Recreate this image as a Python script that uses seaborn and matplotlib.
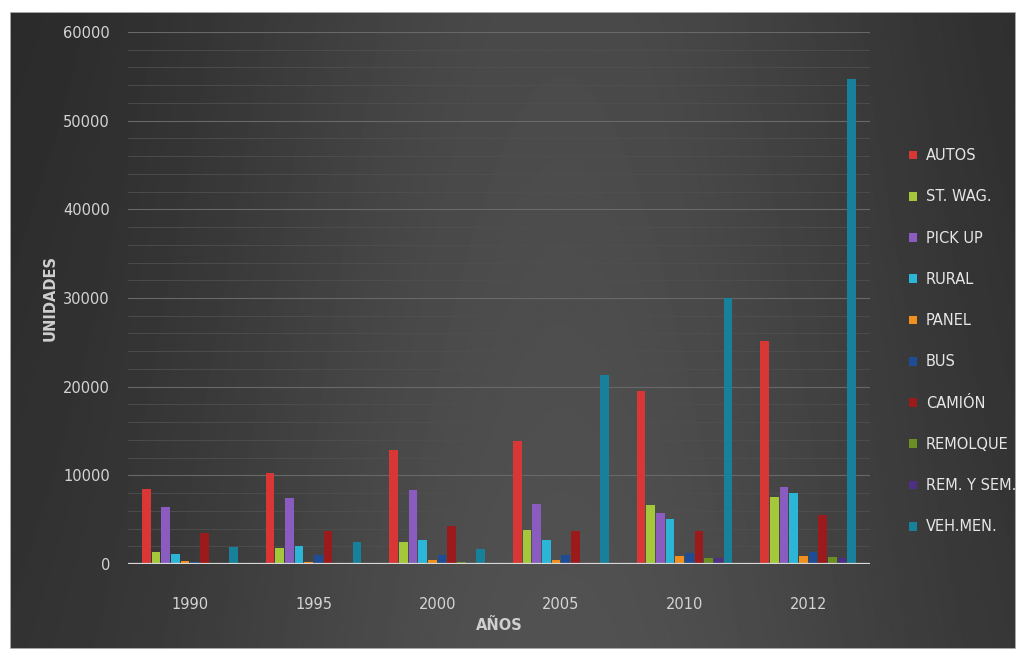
import numpy as np
import pandas as pd
import matplotlib.pyplot as plt
import seaborn as sns
from matplotlib.ticker import MultipleLocator

# datos (unidades por año)
anios = ["1990", "1995", "2000", "2005", "2010", "2012"]
tipos = ["AUTOS", "ST. WAG.", "PICK UP", "RURAL", "PANEL", "BUS",
         "CAMIÓN", "REMOLQUE", "REM. Y SEM.", "VEH.MEN."]

autos = [8500, 10300, 12900, 13900, 19500, 25100]
st_wag = [1400, 1800, 2500, 3800, 6600, 7600]
pick_up = [6400, 7400, 8400, 6800, 5700, 8700]
rural = [1100, 2000, 2700, 2700, 5100, 8000]
panel = [300, 250, 400, 500, 900, 900]
bus = [250, 1000, 1000, 1000, 1200, 1400]
camion = [3500, 3700, 4300, 3700, 3700, 5500]
remolque = [150, 100, 200, 150, 700, 800]
rem_sem = [50, 50, 50, 50, 700, 700]
veh_men = [1900, 2500, 1700, 21300, 30000, 54700]

series = [autos, st_wag, pick_up, rural, panel, bus, camion, remolque, rem_sem, veh_men]
colores = ["#d93636", "#a5c83a", "#8a5cc0", "#2bb6d8", "#f0901f",
           "#1f4d95", "#9b1a1c", "#6a8f25", "#4e2f84", "#17809a"]

df = pd.DataFrame({
    "año": np.repeat([anios], len(tipos), axis=0).ravel(),
    "tipo": np.repeat(tipos, len(anios)),
    "unidades": np.concatenate(series),
})

fig = plt.figure(figsize=(10.16, 6.49), dpi=100)

# fondo degradado oscuro
bg = fig.add_axes([10 / 1016, 0, 1 - 10 / 1016, 1 - 12 / 649])
xx = np.linspace(0, 1, 400)
yy = np.linspace(0, 1, 300)
X, Y = np.meshgrid(xx, yy)
val = 0.15 + 0.14 * np.exp(-((X - 0.55) / 0.38) ** 2) + 0.03 * Y
bg.imshow(val, cmap="gray", vmin=0, vmax=1, aspect="auto", extent=[0, 1, 0, 1])
bg.set_axis_off()
bg.add_patch(plt.Rectangle((0, 0), 1, 1, transform=bg.transAxes, fill=False,
                           edgecolor="#bdbdbd", lw=1.2))

ax = fig.add_axes([128 / 1016, 1 - 564 / 649, 742 / 1016, 532 / 649])
ax.set_facecolor("none")

sns.barplot(data=df, x="año", y="unidades", hue="tipo", hue_order=tipos,
            palette=colores, width=0.78, gap=0.1, ax=ax, saturation=1,
            edgecolor="none", legend=True, zorder=3)

ax.set_ylim(0, 60000)
ax.yaxis.set_major_locator(MultipleLocator(10000))
ax.yaxis.set_minor_locator(MultipleLocator(2000))
ax.grid(axis="y", which="major", color="#686868", lw=0.8, zorder=0)
ax.grid(axis="y", which="minor", color="#4f4f4f", lw=0.6, zorder=0)
ax.grid(axis="x", visible=False)
ax.set_axisbelow(True)
ax.axhline(0, color="#d8d8d8", lw=1.6, zorder=4)
for s in ax.spines.values():
    s.set_visible(False)

ax.tick_params(axis="both", which="both", length=0, colors="#d4d4d4", labelsize=10.5)
ax.tick_params(axis="y", pad=13)
ax.tick_params(axis="x", pad=24)
ax.set_xlabel("AÑOS", color="#cfcfcf", fontsize=10.5, fontweight="bold", labelpad=4)
ax.set_ylabel("UNIDADES", color="#cfcfcf", fontsize=10.5, fontweight="bold", labelpad=4)

handles, labels = ax.get_legend_handles_labels()
ax.get_legend().remove()
leg = fig.legend(handles, labels, loc="upper left", bbox_to_anchor=(0.882, 0.792),
                 frameon=False, fontsize=10.5, labelspacing=1.8,
                 handlelength=0.55, handleheight=0.55, handletextpad=0.6)
for t in leg.get_texts():
    t.set_color("#e6e6e6")

fig.savefig("out.png", dpi=100)
